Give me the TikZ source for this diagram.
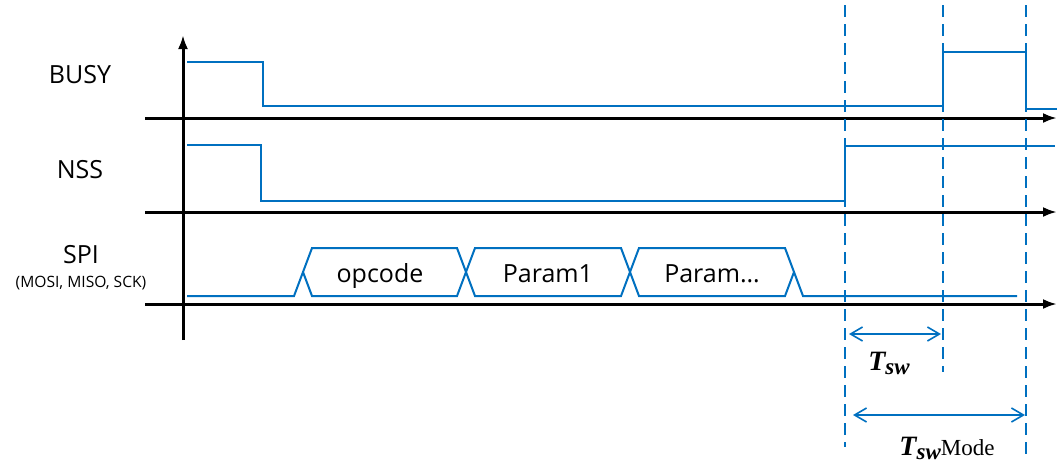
\documentclass[tikz,border=0pt]{standalone}
\usepackage{fontspec}
\setmainfont{Open Sans}
\newfontfamily\timesrm{Liberation Serif}
\usetikzlibrary{arrows.meta}
\definecolor{sigblue}{RGB}{0,112,192}
\newcommand{\tswlabel}{{\timesrm\bfseries\itshape\fontsize{14}{16}\selectfont T\raisebox{-2.2pt}{\fontsize{11.5}{13}\selectfont sw}}}

\begin{document}
\begin{tikzpicture}
[x=0.5pt,y=-0.5pt,font=\fontsize{12.5}{15}\selectfont,
axis/.style={line width=1.5pt,-{Latex[length=7pt,width=5pt]}},
signal/.style={sigblue,line width=1pt},
marker/.style={sigblue,line width=0.8pt,dash pattern=on 6pt off 3.5pt},
span/.style={sigblue,line width=0.8pt,{Straight Barb[length=6pt,width=7pt]}-{Straight Barb[length=6pt,width=7pt]}}]
\useasboundingbox (0,0) rectangle (1057,463);
% axes
\draw[axis] (183,340) -- (183,35);
\foreach \y in {118,212,304} \draw[axis] (145,\y) -- (1057,\y);
% signal names
\node[anchor=base] (busy) at (80,83) {BUSY};
\node[anchor=base] (nss) at (80,178) {NSS};
\node[anchor=base] (spi) at (81,263) {SPI};
\node[anchor=base,font=\fontsize{7.8}{9}\selectfont] (spipins) at (81,287) {(MOSI, MISO, SCK)};
% waveforms
\draw[signal] (187,62) -- (263,62) -- (263,106) -- (943,106) -- (943,52) -- (1026,52) -- (1026,109) -- (1057,109);
\draw[signal] (187,145) -- (261,145) -- (261,201) -- (845,201) -- (845,146) -- (1055,146);
\draw[signal] (187,296) -- (294,296) -- (312,248) -- (457,248) -- (475,296) -- (621,296) -- (639,248) -- (785,248) -- (803,296) -- (1017,296);
\draw[signal] (303,272) -- (312,296) -- (457,296) -- (475,248) -- (621,248) -- (639,296) -- (785,296) -- (794,272);
\node[anchor=base] (opcode) at (380,282) {opcode};
\node[anchor=base] (param1) at (548,282) {Param1};
\node[anchor=base] (paramn) at (712,282) {Param…};
% timing markers
\foreach \name/\x/\yend in {t0/845/447,t1/943/372,t2/1026/455}
{
\coordinate (\name top) at (\x,5);
\coordinate (\name) at (\x,\yend);
\draw[marker] (\name top) -- (\name);
}
\coordinate (swa) at (849,334);
\coordinate (swb) at (941,334);
\coordinate (modea) at (853,415);
\coordinate (modeb) at (1025,415);
\draw[span] (swa) -- (swb);
\draw[span] (modea) -- (modeb);
\node[anchor=base] (tsw) at (889,370) {\tswlabel};
\node[anchor=base] (tswmode) at (947,455) {\tswlabel{\timesrm\fontsize{11.5}{13}\selectfont Mode}};
\end{tikzpicture}
\end{document}
